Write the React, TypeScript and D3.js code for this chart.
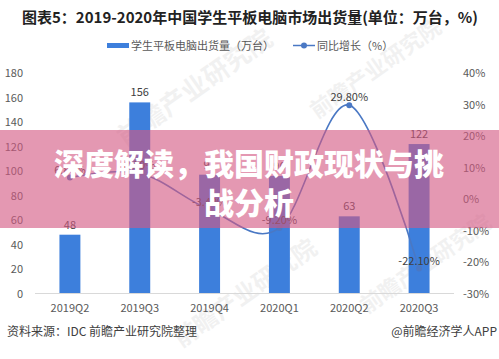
import React from "react";
import * as d3 from "d3";

const categories = ["2019Q2", "2019Q3", "2019Q4", "2020Q1", "2020Q2", "2020Q3"];
const shipments = [48, 156, 97, 96, 63, 122];
const growth = [6.8, 8.2, -3.4, -9.2, 29.8, -22.1];
const growthLabels = ["6.80%", "8.20%", "-3.40%", "-9.20%", "29.80%", "-22.10%"];
const leftTicks = [0, 20, 40, 60, 80, 100, 120, 140, 160, 180];
const rightTicks = [-30, -20, -10, 0, 10, 20, 30, 40];

const W = 499;
const H = 359;
const FONT = "'Noto Sans CJK SC', 'Microsoft YaHei', sans-serif";
const BAR = "#3d7fdc";
const LINE = "#4a78c4";

export default function App() {
  const x = d3.scaleBand<string>().domain(categories).range([35, 454]).paddingInner(0.7).paddingOuter(0.35);
  const yL = d3.scaleLinear().domain([0, 180]).range([293.5, 73]);
  const yR = d3.scaleLinear().domain([-30, 40]).range([293.5, 73]);
  const cx = (c: string) => (x(c) as number) + x.bandwidth() / 2;
  const pts: [number, number][] = categories.map((c, i) => [cx(c), yR(growth[i])]);
  const line = d3.line().curve(d3.curveCardinal.tension(0))(pts) as string;

  const watermarks = [
    { x: 200, y: 95, s: 26 },
    { x: 380, y: 75, s: 22 },
    { x: 250, y: 300, s: 24 },
    { x: 430, y: 270, s: 22 },
  ];

  return (
    <svg width={W} height={H} style={{ position: "absolute", left: 0, top: 0, background: "#fff" }} fontFamily={FONT}>
      <rect width={W} height={H} fill="#fff" />
      <text x={250} y={23} textAnchor="middle" fontSize={15} fontWeight={700} fill="#222">
        图表5：2019-2020年中国学生平板电脑市场出货量(单位：万台，%)
      </text>

      {/* legend */}
      <rect x={107} y={43} width={22} height={5} fill={BAR} />
      <text x={131} y={49.5} fontSize={11} fill="#595959">学生平板电脑出货量（万台）</text>
      <line x1={293} x2={315} y1={45.5} y2={45.5} stroke={LINE} strokeWidth={1.5} />
      <circle cx={304} cy={45.5} r={3} fill={LINE} />
      <text x={317} y={49.5} fontSize={11} fill="#595959">同比增长（%）</text>

      {/* watermarks */}
      {watermarks.map((w, i) => (
        <text key={i} transform={`translate(${w.x},${w.y}) rotate(-35)`} textAnchor="middle" fontSize={w.s} fontWeight={700} fill="#000" opacity={0.05}>
          前瞻产业研究院
        </text>
      ))}

      {/* left axis */}
      {leftTicks.map((t) => (
        <text key={t} x={23} y={yL(t) + 4} textAnchor="end" fontSize={11} fill="#595959">{t}</text>
      ))}
      {/* right axis */}
      {rightTicks.map((t) => (
        <text key={t} x={463} y={yR(t) + 4} fontSize={11} fill="#595959">{t}%</text>
      ))}

      {/* bars */}
      {categories.map((c, i) => (
        <g key={c}>
          <rect x={x(c)} y={yL(shipments[i])} width={x.bandwidth()} height={yL(0) - yL(shipments[i])} fill={BAR} />
          <text x={cx(c)} y={yL(shipments[i]) - 6} textAnchor="middle" fontSize={11} fill="#404040">{shipments[i]}</text>
        </g>
      ))}

      <line x1={35} x2={454} y1={293.5} y2={293.5} stroke="#d9d9d9" strokeWidth={1} />

      {/* x labels */}
      {categories.map((c) => (
        <text key={c} x={cx(c)} y={312} textAnchor="middle" fontSize={11} fill="#595959">{c}</text>
      ))}

      {/* line */}
      <path d={line} fill="none" stroke={LINE} strokeWidth={1.6} />
      {pts.map((p, i) => (
        <g key={i}>
          <circle cx={p[0]} cy={p[1]} r={3} fill={LINE} />
          <text x={p[0]} y={p[1] - 4} textAnchor="middle" fontSize={11} fill="#404040">{growthLabels[i]}</text>
        </g>
      ))}

      {/* footer */}
      <text x={7} y={336} fontSize={12} fill="#404040">资料来源：IDC 前瞻产业研究院整理</text>
      <text x={497} y={336} textAnchor="end" fontSize={12} fill="#404040">@前瞻经济学人APP</text>

      {/* banner overlay */}
      <rect x={0} y={130} width={W} height={98} fill="rgb(212,88,130)" opacity={0.62} />
      <text x={249} y={175} textAnchor="middle" fontSize={30} fontWeight={900} fill="#fff">深度解读，我国财政现状与挑</text>
      <text x={249} y={214} textAnchor="middle" fontSize={30} fontWeight={900} fill="#fff">战分析</text>
    </svg>
  );
}
